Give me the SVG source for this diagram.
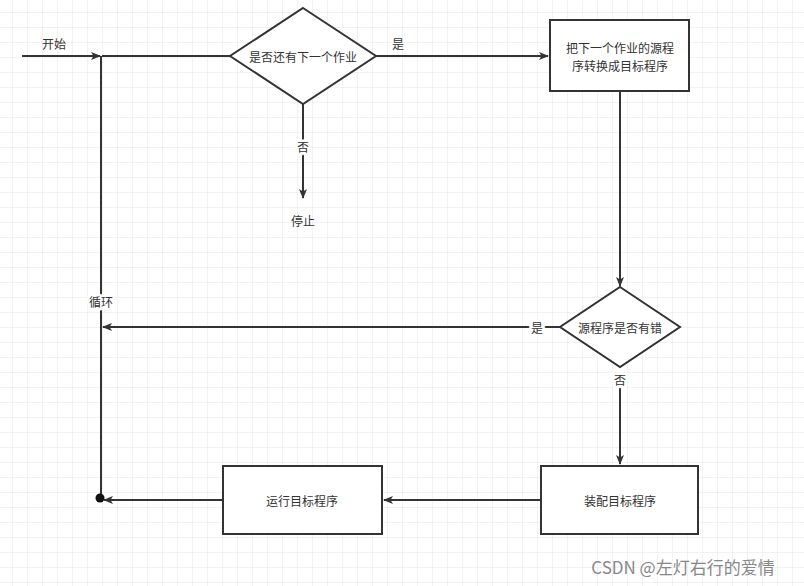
<svg xmlns="http://www.w3.org/2000/svg" width="804" height="586" viewBox="0 0 804 586">
<defs>
<pattern id="g" x="12" y="12" width="15" height="15" patternUnits="userSpaceOnUse"><path d="M0 0H15M0 0V15" fill="none" stroke="#e6e6e6" stroke-width="1"/></pattern>
<marker id="a" markerWidth="10" markerHeight="8" refX="9" refY="4" orient="auto" markerUnits="userSpaceOnUse"><path d="M0 0L10 4L0 8L2.5 4Z" fill="#333"/></marker>
<style>
.s{fill:#fff;stroke:#333;stroke-width:2}
.c{fill:none;stroke:#333;stroke-width:2}
.l{paint-order:stroke;stroke:#fff;stroke-width:5}
text{font-family:"Noto Sans CJK SC","Liberation Sans",sans-serif;font-size:12px;fill:#333;text-anchor:middle;dominant-baseline:central}
</style>
</defs>
<rect width="804" height="586" fill="#fff"/>
<rect width="804" height="586" fill="url(#g)"/>
<g id="connectors">
<path class="c" d="M22 56H100" marker-end="url(#a)"/>
<path class="c" d="M102 56H230"/>
<path class="c" d="M101 56V500"/>
<path class="c" d="M376 56H548" marker-end="url(#a)"/>
<path class="c" d="M303 104V198" marker-end="url(#a)"/>
<path class="c" d="M620 91V286" marker-end="url(#a)"/>
<path class="c" d="M547 327H103" marker-end="url(#a)"/>
<path class="c" d="M560 327H547"/>
<path class="c" d="M620 388V464" marker-end="url(#a)"/>
<path class="c" d="M541 500H384" marker-end="url(#a)"/>
<path class="c" d="M223 500H104" marker-end="url(#a)"/>
<circle cx="100" cy="498" r="4.5" fill="#111"/>
<text x="54" y="43">开始</text>
<text x="398" y="43">是</text>
<text class="l" x="303" y="146">否</text>
<text x="303" y="220">停止</text>
<text class="l" x="101" y="301">循环</text>
<text class="l" x="537" y="327">是</text>
<text class="l" x="620" y="379">否</text>
</g>
<g id="d1"><path class="s" d="M303 8L376 56L303 104L230 56Z"/><text x="303" y="56">是否还有下一个作业</text></g>
<g id="b1"><rect class="s" x="550" y="20" width="139" height="71"/><text x="620" y="47">把下一个作业的源程</text><text x="620" y="65">序转换成目标程序</text></g>
<g id="d2"><path class="s" d="M620 287L680 327L620 367L560 327Z"/><text x="620" y="327">源程序是否有错</text></g>
<g id="b3"><rect class="s" x="541" y="466" width="157" height="68"/><text x="620" y="500">装配目标程序</text></g>
<g id="b2"><rect class="s" x="223" y="466" width="159" height="68"/><text x="302" y="500">运行目标程序</text></g>
<text x="683" y="566" style="font-size:17px;fill:#888">CSDN @左灯右行的爱情</text>
</svg>
